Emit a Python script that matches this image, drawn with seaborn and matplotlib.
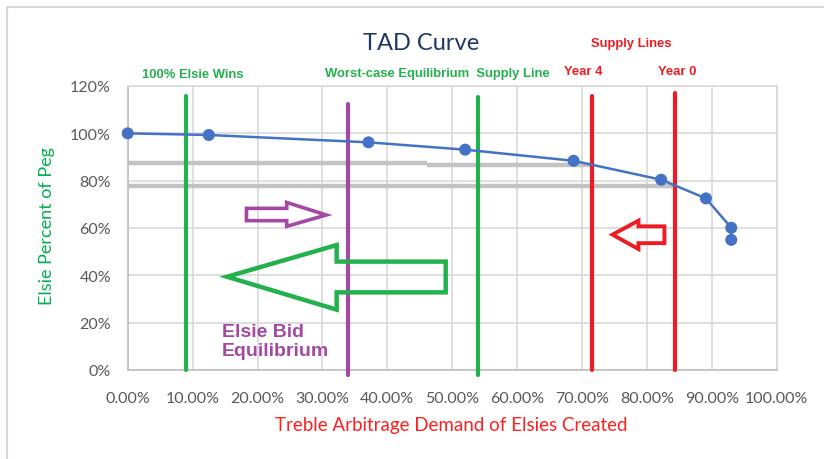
import numpy as np
import pandas as pd
import matplotlib
matplotlib.use("Agg")
import matplotlib.pyplot as plt
from matplotlib.patches import Polygon, Rectangle
from matplotlib.ticker import FuncFormatter
import seaborn as sns

# ---- data ----
demand = [0.0, 0.125, 0.371, 0.520, 0.687, 0.822, 0.891, 0.930, 0.930]
peg = [1.00, 0.993, 0.962, 0.931, 0.884, 0.804, 0.725, 0.601, 0.550]

x_ticks = [0.0, 0.1, 0.2, 0.3, 0.4, 0.5, 0.6, 0.7, 0.8, 0.9, 1.0]
y_ticks = [0.0, 0.2, 0.4, 0.6, 0.8, 1.0, 1.2]

# vertical marker lines: x, y-bottom, y-top, colour
vline_x = [0.0906, 0.340, 0.539, 0.715, 0.844]
vline_bottom = [0.0, -0.02, -0.02, 0.002, 0.002]
vline_top = [1.158, 1.124, 1.153, 1.158, 1.17]
vline_colors = ["#22B14C", "#A349A4", "#22B14C", "#ED1C24", "#ED1C24"]

# grey horizontal level lines: x-start, x-end, y
hline_x0 = [0.0, 0.461, 0.0]
hline_x1 = [0.461, 0.713, 0.843]
hline_y = [0.875, 0.868, 0.777]

# hollow arrows (outline vertices in data units)
purple_arrow = [(0.183, 0.683), (0.245, 0.683), (0.245, 0.708), (0.306, 0.655),
                (0.245, 0.607), (0.245, 0.631), (0.183, 0.631)]
green_arrow = [(0.153, 0.394), (0.322, 0.528), (0.322, 0.458), (0.490, 0.458),
               (0.490, 0.328), (0.322, 0.328), (0.322, 0.255)]
red_arrow = [(0.747, 0.572), (0.787, 0.631), (0.787, 0.607), (0.827, 0.607),
             (0.827, 0.536), (0.787, 0.536), (0.787, 0.511)]

df = pd.DataFrame({"demand": demand, "peg": peg})

sns.set_theme(style="white")
plt.rcParams["font.family"] = ["Lato", "DejaVu Sans"]

W, H = 824, 460
fig = plt.figure(figsize=(W / 100, H / 100), dpi=100)
ax = fig.add_axes([127.7 / W, 1 - 371 / H, (776.7 - 127.7) / W, (371 - 87) / H])

# outer chart border (left/top visible)
fig.patches.append(Rectangle((7.5 / W, -0.1), 1.2, 1 - 8 / H + 0.1, transform=fig.transFigure,
                             fill=False, edgecolor="#D9D9D9", linewidth=1.5))

ax.set_xlim(0, 1.0)
ax.set_ylim(0, 1.2)
ax.set_xticks(x_ticks)
ax.set_yticks(y_ticks)
ax.xaxis.set_major_formatter(FuncFormatter(lambda v, p: f"{v*100:.2f}%"))
ax.yaxis.set_major_formatter(FuncFormatter(lambda v, p: f"{v*100:.0f}%"))
ax.grid(True, color="#D9D9D9", linewidth=1.2)
ax.set_axisbelow(True)
for s in ax.spines.values():
    s.set_color("#D9D9D9")
    s.set_linewidth(1.2)
ax.spines["left"].set_color("#BFBFBF")
ax.spines["bottom"].set_color("#BFBFBF")
ax.tick_params(axis="both", length=0, colors="#595959", labelsize=11.5)
ax.tick_params(axis="x", pad=15)
ax.tick_params(axis="y", pad=12)

# grey level lines
for x0, x1, y in zip(hline_x0, hline_x1, hline_y):
    ax.plot([x0, x1], [y, y], color="#C3C3C3", linewidth=3.2, solid_capstyle="butt", zorder=2)

# vertical lines
for x, y0, y1, c in zip(vline_x, vline_bottom, vline_top, vline_colors):
    ax.plot([x, x], [y0, y1], color=c, linewidth=3.0, clip_on=False, zorder=3,
            solid_capstyle="round")

# curve
sns.lineplot(data=df, x="demand", y="peg", ax=ax, estimator=None, sort=False,
             color="#4472C4", linewidth=1.8, zorder=4)
sns.scatterplot(data=df, x="demand", y="peg", ax=ax, color="#4472C4", s=75,
                edgecolor="none", zorder=5, clip_on=False)

# arrows
ax.add_patch(Polygon(purple_arrow, closed=True, fill=False, edgecolor="#A349A4",
                     linewidth=2.6, zorder=6, joinstyle="miter"))
ax.add_patch(Polygon(green_arrow, closed=True, fill=False, edgecolor="#22B14C",
                     linewidth=3.2, zorder=6, joinstyle="miter"))
ax.add_patch(Polygon(red_arrow, closed=True, fill=False, edgecolor="#ED1C24",
                     linewidth=2.8, zorder=6, joinstyle="miter"))

ax.set_xlabel("")
ax.set_ylabel("")

# axis titles
fig.text(451 / W, 1 - 426 / H, "Treble Arbitrage Demand of Elsies Created",
         ha="center", va="center", color="#FF2020", fontsize=13.5)
fig.text(47 / W, 1 - 226 / H, "Elsie Percent of Peg", rotation=90,
         ha="center", va="center", color="#00B050", fontsize=13)
fig.text(421 / W, 1 - 43 / H, "TAD Curve", ha="center", va="center",
         color="#1F3864", fontsize=17)

# annotations
narrow = ["Liberation Sans Narrow", "Liberation Sans", "DejaVu Sans"]
fs_lab = 9.4
fig.text(193 / W, 1 - 75 / H, "100% Elsie Wins", ha="center", va="center",
         color="#22B14C", fontsize=fs_lab, fontweight="bold", family=narrow)
fig.text(437 / W, 1 - 74 / H, "Worst-case Equilibrium  Supply Line", ha="center",
         va="center", color="#22B14C", fontsize=fs_lab, fontweight="bold", family=narrow)
fig.text(583 / W, 1 - 72 / H, "Year 4", ha="center", va="center",
         color="#ED1C24", fontsize=fs_lab, fontweight="bold", family=narrow)
fig.text(677 / W, 1 - 72 / H, "Year 0", ha="center", va="center",
         color="#ED1C24", fontsize=fs_lab, fontweight="bold", family=narrow)
fig.text(631 / W, 1 - 44 / H, "Supply Lines", ha="center", va="center",
         color="#ED1C24", fontsize=fs_lab, fontweight="bold", family=narrow)
fig.text(222 / W, 1 - 342 / H, "Elsie Bid\nEquilibrium", ha="left", va="center",
         color="#A349A4", fontsize=14, fontweight="bold",
         family=["Liberation Sans", "DejaVu Sans"], linespacing=1.1)

fig.savefig("out.png", dpi=100)
